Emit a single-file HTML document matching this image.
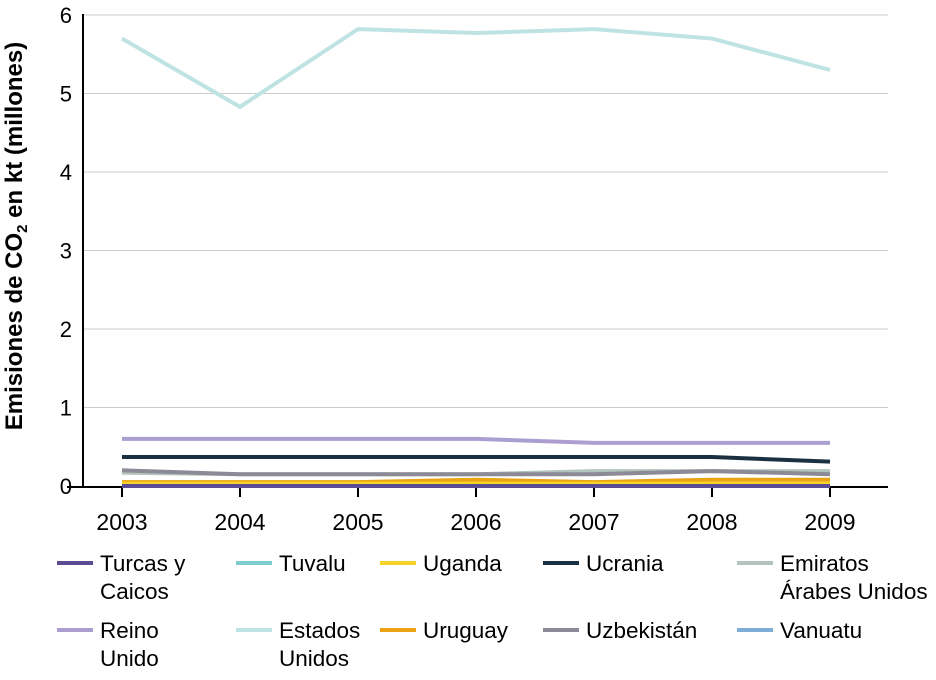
<!DOCTYPE html>
<html><head><meta charset="utf-8"><style>
body{margin:0;background:#fff;font-family:"Liberation Sans",sans-serif}
svg text{font-family:"Liberation Sans",sans-serif}
</style></head><body>
<svg width="936" height="675" id="c"></svg>
<script>
const years=[2003,2004,2005,2006,2007,2008,2009];
const yTicks=[0,1,2,3,4,5,6];
const turcas=[0,0,0,0,0,0,0];
const tuvalu=[0,0,0,0,0,0,0];
const uganda=[0.03,0.03,0.03,0.03,0.03,0.03,0.03];
const ucrania=[0.37,0.37,0.37,0.37,0.37,0.37,0.31];
const emiratos=[0.17,0.15,0.15,0.15,0.19,0.19,0.19];
const reino=[0.6,0.6,0.6,0.6,0.55,0.55,0.55];
const estados=[5.7,4.83,5.82,5.77,5.82,5.7,5.3];
const uruguay=[0.05,0.05,0.05,0.08,0.05,0.08,0.08];
const uzbek=[0.2,0.15,0.15,0.15,0.15,0.19,0.15];
const vanuatu=[0,0,0,0,0,0,0];
const NS="http://www.w3.org/2000/svg";
const svg=document.getElementById('c');
const x=i=>122+i*118;
const y=v=>486-v*78.5;
function mk(t,a,p){const e=document.createElementNS(NS,t);for(const k in a)e.setAttribute(k,a[k]);(p||svg).appendChild(e);return e;}
yTicks.forEach(t=>{
 if(t>0){const g=mk('line',{x1:83,x2:888,y1:y(t),y2:y(t),stroke:'#ccc','stroke-width':1});
 
 }
 const l=mk('text',{x:72,y:y(t)+8,'text-anchor':'end','font-size':22,fill:'#000'});l.textContent=t;
 
 
});
mk('line',{x1:83,x2:83,y1:14,y2:487,stroke:'#000','stroke-width':2});
mk('line',{x1:67,x2:888,y1:487,y2:487,stroke:'#000','stroke-width':2});
years.forEach((yr,i)=>{
 mk('line',{x1:x(i),x2:x(i),y1:487,y2:497,stroke:'#000','stroke-width':2});
 const l=mk('text',{x:x(i),y:530,'text-anchor':'middle','font-size':23});l.textContent=yr;
 
 
});
const yt=mk('text',{transform:'translate(22,236) rotate(-90)','text-anchor':'middle','font-size':24,'font-weight':'bold'});
yt.innerHTML='Emisiones de CO<tspan font-size="15" dy="5">2</tspan><tspan dy="-5"> en kt (millones)</tspan>';


const series=[
 ['Turcas y|Caicos',turcas,'#5b4a94',57,563],
 ['Tuvalu',tuvalu,'#7ecdcc',236,563],
 ['Uganda',uganda,'#f5d327',380,563],
 ['Ucrania',ucrania,'#1b3142',543,563],
 ['Emiratos|Árabes Unidos',emiratos,'#b3c4bc',737,563],
 ['Reino|Unido',reino,'#ab9fd1',57,630],
 ['Estados|Unidos',estados,'#bfe3e3',236,630],
 ['Uruguay',uruguay,'#eba313',380,630],
 ['Uzbekistán',uzbek,'#8b8a96',543,630],
 ['Vanuatu',vanuatu,'#7eaed6',737,630]];
const order=[6,5,3,4,8,7,2,1,9,0];
order.forEach(k=>{const s=series[k];
 const p=mk('polyline',{points:s[1].map((v,i)=>x(i)+','+y(v)).join(' '),fill:'none',stroke:s[2],'stroke-width':4});
 
 
});
series.forEach(s=>{
 const g=mk('g',{});
 
 
 mk('line',{x1:s[3],x2:s[3]+36,y1:s[4],y2:s[4],stroke:s[2],'stroke-width':4},g);
 s[0].split('|').forEach((t,j)=>{const l=mk('text',{x:s[3]+43,y:s[4]+8+j*28,'font-size':22.5},g);l.textContent=t;});
});
</script>
</body></html>
